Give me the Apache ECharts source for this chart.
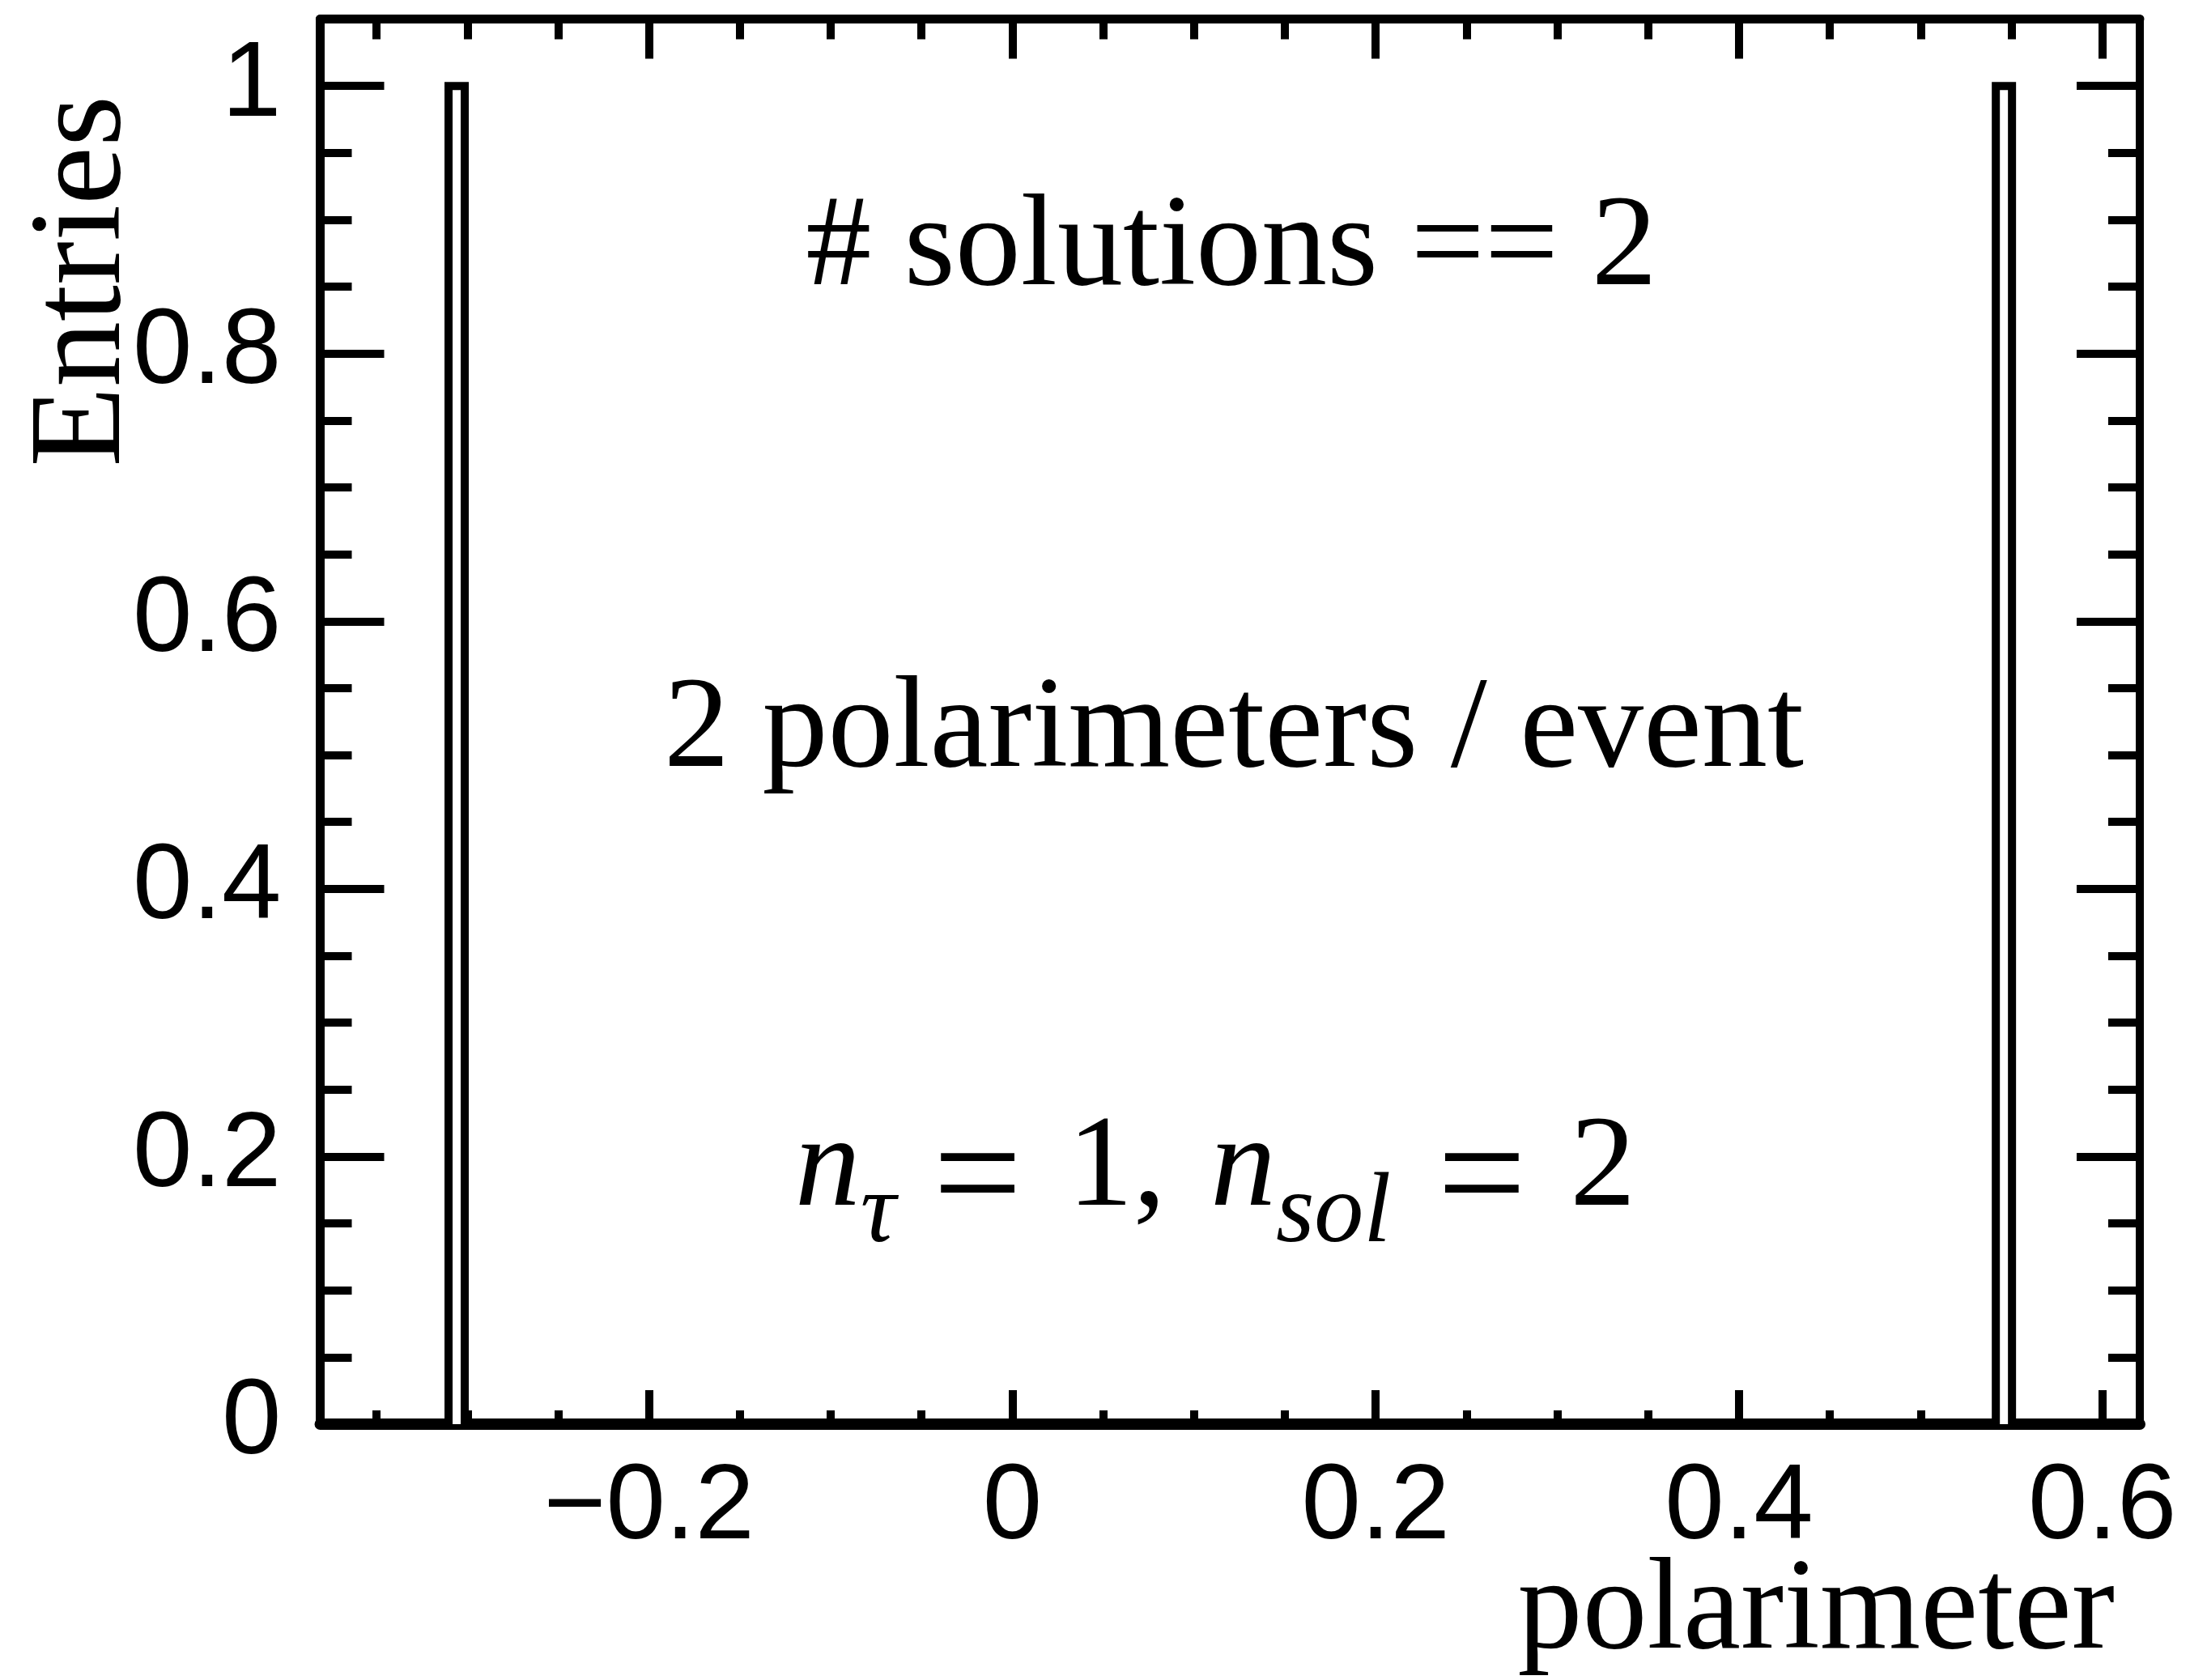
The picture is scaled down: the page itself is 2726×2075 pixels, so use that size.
<!DOCTYPE html>
<html><head><meta charset="utf-8">
<script src="https://cdn.jsdelivr.net/npm/echarts@6/dist/echarts.min.js"></script>
<style>html,body{margin:0;padding:0;background:#fff;}#c{width:2726px;height:2075px;}</style>
</head><body><div id="c"></div>
<script>
// ---- data ----
const binCenters = [-0.3059, 0.5458];
const binContents = [1, 1];
const binWidth = 0.0089;
const xMin = -0.381, xMax = 0.6206;
const yMin = 0, yMax = 1.05;
const xMajorTicks = [-0.2, 0, 0.2, 0.4, 0.6];
const xTickLabels = ['\u22120.2', '0', '0.2', '0.4', '0.6'];
const xMinorTicks = [-0.35, -0.3, -0.25, -0.15, -0.1, -0.05, 0.05, 0.1, 0.15, 0.25, 0.3, 0.35, 0.45, 0.5, 0.55];
const yMajorTicks = [0, 0.2, 0.4, 0.6, 0.8, 1];
const yTickLabels = ['0', '0.2', '0.4', '0.6', '0.8', '1'];
const yMinorTicks = [0.05, 0.1, 0.15, 0.25, 0.3, 0.35, 0.45, 0.5, 0.55, 0.65, 0.7, 0.75, 0.85, 0.9, 0.95];
const xTitle = 'polarimeter';
const yTitle = 'Entries';
const note1 = '# solutions == 2';
const note2 = '2 polarimeters / event';

const SANS = "'Liberation Sans', Arial, Helvetica, sans-serif";
const SERIF = "'Liberation Serif', 'Times New Roman', serif";

function pickLabel(v, ticks, labels) {
  let best = 0, d = Infinity;
  ticks.forEach((t, i) => { const dd = Math.abs(t - v); if (dd < d) { d = dd; best = i; } });
  return labels[best];
}

const gridRect = { left: 395.5, right: 83, top: 23.5, bottom: 316, outerBoundsMode: 'none', containLabel: false };

function xAxisDef(gridIndex, position, ticks, len, showLine, lineW, labels) {
  return {
    type: 'value', gridIndex, position, min: xMin, max: xMax,
    axisLine: { show: showLine, onZero: false, lineStyle: { color: '#000', width: lineW } },
    axisTick: { show: true, inside: true, length: len, customValues: ticks, lineStyle: { color: '#000', width: 10 } },
    axisLabel: labels ? {
      show: true, customValues: xMajorTicks, margin: 39,
      fontFamily: SANS, fontSize: 132, color: '#000',
      formatter: v => pickLabel(v, xMajorTicks, xTickLabels)
    } : { show: false },
    splitLine: { show: false }
  };
}
function yAxisDef(gridIndex, position, ticks, len, showLine, lineW, labels) {
  return {
    type: 'value', gridIndex, position, min: yMin, max: yMax,
    axisLine: { show: showLine, onZero: false, lineStyle: { color: '#000', width: lineW } },
    axisTick: { show: true, inside: true, length: len, customValues: ticks, lineStyle: { color: '#000', width: 10 } },
    axisLabel: labels ? {
      show: true, customValues: yMajorTicks, margin: 48,
      fontFamily: SANS, fontSize: 132, color: '#000',
      formatter: v => pickLabel(v, yMajorTicks, yTickLabels)
    } : { show: false },
    splitLine: { show: false }
  };
}

const histData = binCenters.map((c, i) => [c, binContents[i]]);

const chart = echarts.init(document.getElementById('c'), null, { renderer: 'canvas' });
chart.setOption({
  animation: false,
  backgroundColor: '#fff',
  grid: [Object.assign({}, gridRect), Object.assign({}, gridRect)],
  xAxis: [
    xAxisDef(0, 'bottom', xMajorTicks, 42, true, 14, true),
    xAxisDef(0, 'top', xMajorTicks, 49, true, 11, false),
    xAxisDef(1, 'bottom', xMinorTicks, 17, false, 1, false),
    xAxisDef(1, 'top', xMinorTicks, 25, false, 1, false)
  ],
  yAxis: [
    yAxisDef(0, 'left', yMajorTicks, 79, true, 11, true),
    yAxisDef(0, 'right', yMajorTicks, 78, true, 10, false),
    yAxisDef(1, 'left', yMinorTicks, 39, false, 1, false),
    yAxisDef(1, 'right', yMinorTicks, 39, false, 1, false)
  ],
  series: [{
    type: 'custom',
    coordinateSystem: 'cartesian2d',
    xAxisIndex: 0, yAxisIndex: 0,
    z: 5,
    data: histData,
    renderItem: function (params, api) {
      const c = api.value(0), n = api.value(1);
      const pLo = api.coord([c - binWidth / 2, n]);
      const pHi = api.coord([c + binWidth / 2, 0]);
      return {
        type: 'group',
        children: [
          { type: 'rect', shape: { x: pLo[0], y: pLo[1], width: pHi[0] - pLo[0], height: pHi[1] - pLo[1] },
            style: { fill: '#fff', stroke: null } },
          { type: 'polyline', shape: { points: [[pLo[0], pHi[1]], [pLo[0], pLo[1]], [pHi[0], pLo[1]], [pHi[0], pHi[1]]] },
            style: { fill: null, stroke: '#000', lineWidth: 10, lineJoin: 'miter' } }
        ]
      };
    }
  }],
  graphic: [
    { type: 'text', x: 104, y: 118, rotation: Math.PI / 2, silent: true,
      style: { text: yTitle, fontFamily: SERIF, fontSize: 162, fill: '#000', align: 'right', textAlign: 'right', verticalAlign: 'middle', textVerticalAlign: 'middle' } },
    { type: 'text', x: 2612, y: 1993, silent: true,
      style: { text: xTitle, fontFamily: SERIF, fontSize: 160, fill: '#000', align: 'right', textAlign: 'right', verticalAlign: 'middle', textVerticalAlign: 'middle' } },
    { type: 'text', x: 1521, y: 308, silent: true,
      style: { text: note1, fontFamily: SERIF, fontSize: 162, fill: '#000', align: 'center', textAlign: 'center', verticalAlign: 'middle', textVerticalAlign: 'middle' } },
    { type: 'text', x: 1524, y: 903, silent: true,
      style: { text: note2, fontFamily: SERIF, fontSize: 162, fill: '#000', align: 'center', textAlign: 'center', verticalAlign: 'middle', textVerticalAlign: 'middle' } },
    { type: 'text', x: 1501, y: 1364, silent: true,
      style: {
        text: '{i|n}{s|\u03c4}{eq1|=}{r1|1,}{i|n}{s|sol}{eq2|=}{r|2}',
        fontFamily: SERIF, fontSize: 162, fill: '#000',
        align: 'center', textAlign: 'center', verticalAlign: 'top', textVerticalAlign: 'top',
        rich: {
          i: { fontFamily: SERIF, fontSize: 162, fontStyle: 'italic', lineHeight: 162, verticalAlign: 'top', fill: '#000' },
          s: { fontFamily: SERIF, fontSize: 122, fontStyle: 'italic', lineHeight: 122, verticalAlign: 'top', padding: [76, 0, 0, 0], fill: '#000' },
          eq1: { fontFamily: SERIF, fontSize: 195, lineHeight: 162, verticalAlign: 'top', padding: [0, 56, 0, 46], fill: '#000' },
          r1: { fontFamily: SERIF, fontSize: 162, lineHeight: 162, verticalAlign: 'top', padding: [0, 55, 0, 0], fill: '#000' },
          eq2: { fontFamily: SERIF, fontSize: 195, lineHeight: 162, verticalAlign: 'top', padding: [0, 54, 0, 57], fill: '#000' },
          r: { fontFamily: SERIF, fontSize: 162, lineHeight: 162, verticalAlign: 'top', fill: '#000' }
        }
      } }
  ]
});
</script></body></html>
